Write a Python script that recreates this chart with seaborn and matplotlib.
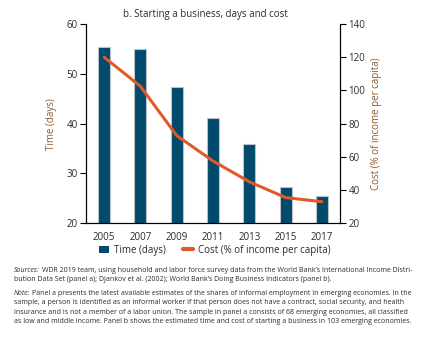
import matplotlib
matplotlib.use("Agg")
import matplotlib.pyplot as plt
import seaborn as sns
import pandas as pd
from matplotlib.patches import Patch
from matplotlib.lines import Line2D

years = ["2005", "2007", "2009", "2011", "2013", "2015", "2017"]
days = [55.3, 54.9, 47.3, 41.2, 36.0, 27.2, 25.5]
cost = [120.0, 102.5, 72.8, 57.5, 45.0, 35.5, 33.0]

bar_color = "#004a6c"
line_color = "#e0592a"
label_color = "#8a5a2c"
text_color = "#2b2b2b"

sns.set_style("white")
plt.rcParams["font.family"] = ["Open Sans", "DejaVu Sans"]

df = pd.DataFrame({"year": years, "days": days, "cost": cost})

fig = plt.figure(figsize=(4.23, 3.37), dpi=100)
ax = fig.add_axes([86/423, 1-223.3/337, (340-86)/423, (223.3-24)/337])

sns.barplot(data=df, x="year", y="days", color=bar_color, width=0.33,
            edgecolor="#b9c2c9", linewidth=0.8, saturation=1, ax=ax)
ax.set_ylim(20, 60)
ax.set_yticks([20, 30, 40, 50, 60])
ax.set_xlim(-0.5, 6.5)
ax.set_xlabel("")
ax.set_ylabel("Time (days)", color=label_color, fontsize=7, labelpad=7)

ax2 = ax.twinx()
sns.pointplot(data=df, x="year", y="cost", color=line_color, markers="",
              linestyles="-", ax=ax2)
for l in ax2.lines:
    l.set_linewidth(2.2)
ax2.set_ylim(20, 140)
ax2.set_yticks([20, 40, 60, 80, 100, 120, 140])
ax2.set_xlim(-0.5, 6.5)
ax2.set_ylabel("Cost (% of income per capita)", color=label_color, fontsize=7, labelpad=4)
ax2.set_xlabel("")

for a in (ax, ax2):
    for s in a.spines.values():
        s.set_color("black")
        s.set_linewidth(0.8)
    a.spines["top"].set_visible(False)
    a.tick_params(axis="y", length=4, width=0.8, color="black", labelsize=7,
                  labelcolor=text_color, pad=2, direction="out")

ax.tick_params(axis="x", which="major", length=0, labelsize=7, labelcolor=text_color, pad=6)
ax.set_xticks([i + 0.5 for i in range(-1, len(years))], minor=True)
ax.tick_params(axis="x", which="minor", length=4, width=0.8, color="black", direction="out")
ax.tick_params(axis="y", left=True)
ax2.tick_params(axis="y", right=True)

fig.text(205/423, 1-15/337, "b. Starting a business, days and cost",
         ha="center", va="center", fontsize=7, color=text_color)

handles = [Patch(facecolor=bar_color, edgecolor="none"),
           Line2D([0], [0], color=line_color, linewidth=3)]
fig.legend(handles, ["Time (days)", "Cost (% of income per capita)"],
           loc="center", bbox_to_anchor=(215/423, 1-250/337), ncol=2,
           frameon=False, fontsize=7, handlelength=1.0, handleheight=0.7,
           columnspacing=1.8, handletextpad=0.5, labelcolor=text_color)

renderer = fig.canvas.get_renderer()
x0_px = 14
target_w = 399

# notes: (y_px, italic prefix, text)
note_lines = [
    (270, "Sources:", "WDR 2019 team, using household and labor force survey data from the World Bank\u2019s International Income Distri-"),
    (279.5, "", "bution Data Set (panel a); Djankov et al. (2002); World Bank\u2019s Doing Business Indicators (panel b)."),
    (293.5, "Note:", "Panel a presents the latest available estimates of the shares of informal employment in emerging economies. In the"),
    (303, "", "sample, a person is identified as an informal worker if that person does not have a contract, social security, and health"),
    (312.3, "", "insurance and is not a member of a labor union. The sample in panel a consists of 68 emerging economies, all classified"),
    (321.6, "", "as low and middle income. Panel b shows the estimated time and cost of starting a business in 103 emerging economies."),
]

def draw_line(y_px, prefix, text, fs):
    x = x0_px
    arts = []
    if prefix:
        t = fig.text(x/423, 1-y_px/337, prefix, fontsize=fs, style="italic",
                     color=text_color, va="center", ha="left")
        arts.append(t)
        x = t.get_window_extent(renderer=renderer).x1 + 2
    t2 = fig.text(x/423, 1-y_px/337, text, fontsize=fs, color=text_color,
                  va="center", ha="left")
    arts.append(t2)
    return arts, t2.get_window_extent(renderer=renderer).x1 - x0_px

# find font size that fits the widest line
fs = 5.2
maxw = 0
for y, p, t in note_lines:
    arts, w = draw_line(y, p, t, fs)
    maxw = max(maxw, w)
    for a in arts:
        a.remove()
fs = fs * target_w / maxw
for y, p, t in note_lines:
    draw_line(y, p, t, fs)

fig.savefig("out.png", dpi=100)
